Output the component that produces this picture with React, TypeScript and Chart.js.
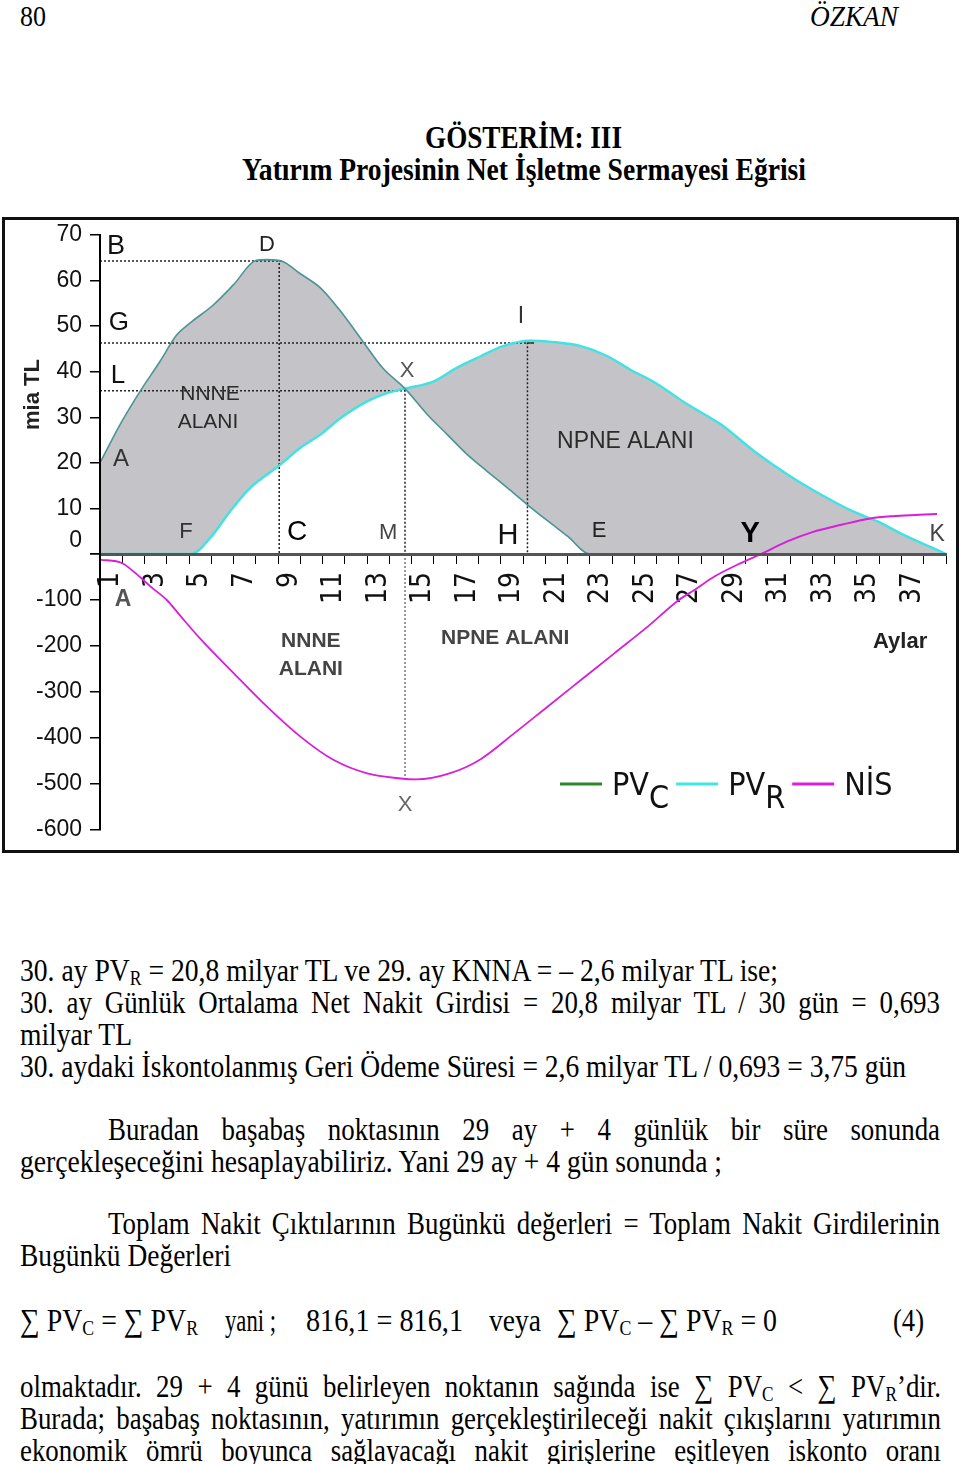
import React, { useEffect, useLayoutEffect, useRef } from 'react';
import { Chart, registerables } from 'chart.js';

Chart.register(...registerables);

// ---------------- data ----------------
const MONTH_LABELS = ['1', '2', '3', '4', '5', '6', '7', '8', '9', '10', '11', '12', '13', '14', '15', '16', '17', '18', '19',
  '20', '21', '22', '23', '24', '25', '26', '27', '28', '29', '30', '31', '32', '33', '34', '35', '36', '37', '38'];

// PV_C (present value of cash outflows), mia TL
const PVC_T = [0, 0.9, 1.8, 2.7, 3.45, 4.05, 5.1, 6.0, 7.0, 7.5, 8.2, 9.0, 9.9, 10.8, 11.8, 12.7, 13.7, 14.7, 15.6, 16.5, 17.4, 18.3, 19.2, 20.1, 21.0, 22.0, 38];
const PVC_V = [20, 28.4, 35.7, 42.3, 48.1, 50.7, 54.7, 59.1, 64.4, 64.6, 64.2, 61.5, 58.4, 53.3, 46.7, 40.8, 36.3, 30.6, 26.2, 21.8, 18.1, 14.5, 10.8, 7.3, 3.9, 0, 0];

// PV_R (present value of cash inflows), mia TL
const PVR_T = [0, 4.1, 4.95, 5.85, 6.75, 8.1, 9.0, 9.9, 10.8, 12.0, 12.9, 13.7, 15.0, 16.0, 17.1, 18.1, 19.3, 20.4, 21.6, 22.8, 23.8, 24.9, 26.4, 27.9, 29.4, 30.9, 32.4, 33.8, 34.9, 36.1, 38];
const PVR_V = [0, 0, 3.5, 9.4, 14.5, 19.6, 23.3, 26.2, 29.8, 33.5, 35.3, 36.3, 37.9, 40.8, 43.4, 45.6, 46.8, 46.5, 45.6, 43.4, 40.5, 37.7, 32.8, 28.4, 22.5, 17.4, 13.0, 9.4, 7.2, 4.2, 0];

// NİS (cumulative net working capital), negative part (lower scale) and positive part (upper scale)
const NIS_NEG_T = [0, 1.0, 1.6, 2.3, 3.0, 3.6, 4.5, 6.0, 7.5, 9.0, 10.5, 12.0, 13.5, 14.2, 15.7, 17.1, 18.6, 20.1, 21.6, 23.1, 24.6, 26.0, 26.7, 27.6, 28.6, 29.7];
const NIS_NEG_V = [-12, -20, -42, -72, -100, -134, -184, -259, -332, -397, -448, -477, -488, -490, -477, -446, -390, -332, -274, -216, -158, -100, -78, -49, -24, 0];
const NIS_POS_T = [29.7, 30.85, 32.0, 33.3, 34.6, 35.6, 36.8, 37.6];
const NIS_POS_V = [0, 2.7, 4.8, 6.4, 7.8, 8.3, 8.6, 8.8];

// dotted reference lines (B-D, G-I, L-X)
const GUIDE_D_T = [0, 8.2, 8.05, 8.05];
const GUIDE_D_V = [64.3, 64.3, 64.3, 0];
const GUIDE_I_T = [0, 19.5, 19.2, 19.2];
const GUIDE_I_V = [46.3, 46.3, 46.3, 0];
const GUIDE_X_T = [0, 13.7, 13.7];
const GUIDE_X_V = [35.8, 35.8, 0];
const GUIDE_XLOW_T = [13.7, 13.7];
const GUIDE_XLOW_V = [0, -485];

// point labels in the chart
const ANNOTATIONS = [
  { text: 'B', t: 0.72, v: 68.0, axis: 'yTop', size: 27, bold: false, color: '#111' },
  { text: 'D', t: 7.5, v: 68.2, axis: 'yTop', size: 22, bold: false, color: '#222' },
  { text: 'G', t: 0.85, v: 51.3, axis: 'yTop', size: 26, bold: false, color: '#111' },
  { text: 'L', t: 0.81, v: 39.5, axis: 'yTop', size: 26, bold: false, color: '#111' },
  { text: 'A', t: 0.94, v: 21.3, axis: 'yTop', size: 24, bold: false, color: '#333' },
  { text: 'NNNE', t: 4.94, v: 35.5, axis: 'yTop', size: 21, bold: false, color: '#2b2b2b' },
  { text: 'ALANI', t: 4.85, v: 29.4, axis: 'yTop', size: 21, bold: false, color: '#2b2b2b' },
  { text: 'F', t: 3.86, v: 5.3, axis: 'yTop', size: 22, bold: false, color: '#333' },
  { text: 'C', t: 8.85, v: 5.3, axis: 'yTop', size: 28, bold: false, color: '#000' },
  { text: 'M', t: 12.94, v: 5.0, axis: 'yTop', size: 22, bold: false, color: '#444' },
  { text: 'H', t: 18.33, v: 4.4, axis: 'yTop', size: 29, bold: false, color: '#111' },
  { text: 'E', t: 22.42, v: 5.5, axis: 'yTop', size: 22, bold: false, color: '#222' },
  { text: 'Y', t: 29.2, v: 5.0, axis: 'yTop', size: 29, bold: true, color: '#000' },
  { text: 'K', t: 37.6, v: 4.6, axis: 'yTop', size: 23, bold: false, color: '#444' },
  { text: 'X', t: 13.79, v: 40.6, axis: 'yTop', size: 22, bold: false, color: '#555' },
  { text: 'I', t: 18.91, v: 52.6, axis: 'yTop', size: 23, bold: false, color: '#333' },
  { text: 'NPNE ALANI', t: 23.6, v: 25.1, axis: 'yTop', size: 23, bold: false, color: '#2b2b2b' },
  { text: 'A', t: 1.03, v: -95.6, axis: 'yBot', size: 23, bold: true, color: '#555' },
  { text: 'NNNE', t: 9.47, v: -186, axis: 'yBot', size: 21, bold: true, color: '#444' },
  { text: 'ALANI', t: 9.47, v: -247, axis: 'yBot', size: 21, bold: true, color: '#444' },
  { text: 'NPNE ALANI', t: 18.2, v: -180, axis: 'yBot', size: 21, bold: true, color: '#444' },
  { text: 'Aylar', t: 35.94, v: -187, axis: 'yBot', size: 22, bold: true, color: '#222' },
  { text: 'X', t: 13.7, v: -541, axis: 'yBot', size: 22, bold: false, color: '#666' },
];

const LEGEND_ITEMS = [
  { name: 'PV', sub: 'C', color: '#2a8a2a' },
  { name: 'PV', sub: 'R', color: '#40e6e6' },
  { name: 'NİS', sub: '', color: '#dd1fdd' },
];

// ---------------- styles ----------------
const SANS = "'Liberation Sans', Arial, sans-serif";
const NARROW = "'Liberation Sans Narrow', 'Arial Narrow', 'DejaVu Sans Condensed', sans-serif";
const SERIF = "'Liberation Serif', 'Times New Roman', serif";
const BASE_SCALE = 0.84;

const zip = (t: number[], v: number[]) => t.map((x, i) => ({ x, y: v[i] }));
const zeroPad = (s: any) => { s.paddingLeft = 0; s.paddingRight = 0; s.paddingTop = 0; s.paddingBottom = 0; };

const annotationPlugin = {
  id: 'pointLetters',
  afterDatasetsDraw(chart: any) {
    const ctx = chart.ctx;
    const xs = chart.scales.x;
    ctx.save();
    ctx.textAlign = 'center';
    ctx.textBaseline = 'alphabetic';
    for (const a of ANNOTATIONS) {
      const ys = chart.scales[a.axis];
      ctx.font = `${a.bold ? 'bold ' : ''}${a.size}px ${SANS}`;
      ctx.fillStyle = a.color;
      ctx.fillText(a.text, xs.getPixelForValue(a.t), ys.getPixelForValue(a.v) + a.size * 0.36);
    }
    ctx.restore();
  },
};

const legendPlugin = {
  id: 'subLegend',
  afterDraw(chart: any) {
    const ctx = chart.ctx;
    ctx.save();
    ctx.font = `32px ${NARROW}`;
    ctx.textAlign = 'left';
    ctx.textBaseline = 'alphabetic';
    let x = chart.chartArea.left + 460;
    const base = chart.chartArea.bottom - 35;
    for (const it of LEGEND_ITEMS) {
      ctx.strokeStyle = it.color;
      ctx.lineWidth = 3;
      ctx.beginPath();
      ctx.moveTo(x, base - 11);
      ctx.lineTo(x + 42, base - 11);
      ctx.stroke();
      x += 52;
      ctx.fillStyle = '#111';
      ctx.fillText(it.name, x, base);
      x += ctx.measureText(it.name).width;
      if (it.sub) {
        ctx.fillText(it.sub, x, base + 13);
        x += ctx.measureText(it.sub).width;
      }
      x += 7;
    }
    ctx.restore();
  },
};

function ChartPanel() {
  const ref = useRef<HTMLCanvasElement>(null);
  useEffect(() => {
    const canvas = ref.current;
    if (!canvas) return;
    const guide = (t: number[], v: number[], axis: string, color: string, w: number) => ({
      data: zip(t, v), xAxisID: 'x', yAxisID: axis, borderColor: color, borderWidth: w,
      borderDash: [2, 2], pointRadius: 0, fill: false, tension: 0,
    });
    const chart = new Chart(canvas, {
      type: 'line',
      data: {
        datasets: [
          { label: 'NİS', data: zip(NIS_NEG_T, NIS_NEG_V), xAxisID: 'x', yAxisID: 'yBot', borderColor: '#d81ed8', borderWidth: 1.8, pointRadius: 0, fill: false, cubicInterpolationMode: 'monotone' },
          { label: 'NİS+', data: zip(NIS_POS_T, NIS_POS_V), xAxisID: 'x', yAxisID: 'yTop', borderColor: '#d81ed8', borderWidth: 2, pointRadius: 0, fill: false, cubicInterpolationMode: 'monotone' },
          { label: 'PVC', data: zip(PVC_T, PVC_V), xAxisID: 'x', yAxisID: 'yTop', borderColor: '#4d9494', borderWidth: 1.6, pointRadius: 0, fill: false, cubicInterpolationMode: 'monotone' },
          { label: 'PVR', data: zip(PVR_T, PVR_V), xAxisID: 'x', yAxisID: 'yTop', borderColor: '#3fe3e3', borderWidth: 2.4, pointRadius: 0, fill: 2, backgroundColor: '#c4c3c7', cubicInterpolationMode: 'monotone' },
          guide(GUIDE_D_T, GUIDE_D_V, 'yTop', '#222', 1.5),
          guide(GUIDE_I_T, GUIDE_I_V, 'yTop', '#222', 1.5),
          guide(GUIDE_X_T, GUIDE_X_V, 'yTop', '#222', 1.5),
          guide(GUIDE_XLOW_T, GUIDE_XLOW_V, 'yBot', '#999', 2),
        ] as any,
      },
      options: {
        responsive: false,
        animation: false,
        devicePixelRatio: 1,
        layout: { padding: { left: 0, right: 10, top: 15, bottom: 20 } },
        plugins: {
          legend: { display: false },
          tooltip: { enabled: false },
          filler: { drawTime: 'beforeDatasetsDraw' },
        },
        scales: {
          x: {
            type: 'linear', axis: 'x', position: { yTop: 0 }, min: 0, max: 38,
            ticks: { stepSize: 1, display: false },
            grid: { drawOnChartArea: false, drawTicks: true, tickLength: 8, color: '#000', lineWidth: 1 },
            border: { display: true, color: '#555', width: 3, z: 1 },
            afterFit: zeroPad,
          },
          xl: {
            type: 'category', axis: 'x', labels: MONTH_LABELS, position: { yTop: 0 }, offset: true,
            grid: { display: false, drawTicks: false },
            border: { display: false },
            ticks: {
              autoSkip: false, minRotation: 90, maxRotation: 90, padding: 18, color: '#111',
              font: { family: NARROW, size: 28 },
              callback: (_v: any, idx: number) => (idx % 2 === 0 ? MONTH_LABELS[idx] : ''),
            },
            afterFit: zeroPad,
          },
          yBot: {
            type: 'linear', axis: 'y', position: 'left', stack: 'v', stackWeight: 276, weight: 0,
            min: -600, max: 0,
            ticks: { stepSize: 100, autoSkip: false, padding: 8, color: '#111', font: { family: SANS, size: 23 },
              callback: (v: any) => (v === 0 ? '' : String(v)) },
            grid: { drawOnChartArea: false, tickLength: 10, color: '#000', lineWidth: 1.5 },
            border: { display: true, color: '#000', width: 2, z: 1 },
            afterFit: (s: any) => { zeroPad(s); s.width = 95; },
          },
          yTop: {
            type: 'linear', axis: 'y', position: 'left', stack: 'v', stackWeight: 319, weight: 1,
            min: 0, max: 70,
            ticks: { stepSize: 10, autoSkip: false, padding: 8, color: '#111', font: { family: SANS, size: 23 },
              callback: (v: any) => (v === 0 ? ['0', ''] : String(v)) },
            grid: { drawOnChartArea: false, tickLength: 10, color: '#000', lineWidth: 1.5 },
            border: { display: true, color: '#000', width: 2, z: 1 },
            title: { display: true, text: 'mia TL', color: '#222', font: { family: SANS, size: 22, weight: 'bold' }, padding: { top: 15, bottom: 0 } },
            afterFit: (s: any) => { zeroPad(s); s.width = 95; },
          },
        } as any,
      },
      plugins: [annotationPlugin, legendPlugin],
    } as any);
    return () => chart.destroy();
  }, []);
  return <canvas ref={ref} width={951} height={630} style={{ display: 'block', width: 951, height: 630 }} />;
}

function TextLine(props: { x: number; y: number; w: number; justify?: boolean; size?: number; bold?: boolean; italic?: boolean; children: React.ReactNode }) {
  const ref = useRef<HTMLDivElement>(null);
  const { x, y, w, justify, size = 32, bold, italic } = props;
  useLayoutEffect(() => {
    const el = ref.current;
    if (!el) return;
    el.style.transform = 'none';
    el.style.wordSpacing = '0px';
    const natural = el.getBoundingClientRect().width;
    if (!natural) return;
    let s = w / natural;
    if (justify) {
      const spaces = (el.textContent || '').split(' ').length - 1;
      if (spaces > 0 && natural * BASE_SCALE < w) {
        s = BASE_SCALE;
        el.style.wordSpacing = `${(w / s - natural) / spaces}px`;
      }
    }
    el.style.transform = `scaleX(${s})`;
  }, [w, justify]);
  return (
    <div ref={ref} style={{
      position: 'absolute', left: x, top: y - size / 2, width: 'max-content', whiteSpace: 'pre',
      fontFamily: SERIF, fontSize: size, lineHeight: `${size}px`, fontWeight: bold ? 700 : 400,
      fontStyle: italic ? 'italic' : 'normal', transformOrigin: '0 0', color: '#000',
    }}>{props.children}</div>
  );
}

const Sub = ({ children }: { children: React.ReactNode }) => (
  <span style={{ fontSize: '0.64em', position: 'relative', top: '0.2em' }}>{children}</span>
);

export default function App() {
  return (
    <div style={{ position: 'absolute', left: 0, top: 0, width: 960, height: 1464, background: '#fff', overflow: 'hidden' }}>
      <TextLine x={20} y={16} w={26} size={30}>80</TextLine>
      <TextLine x={810} y={16} w={88} size={30} italic>ÖZKAN</TextLine>
      <TextLine x={425} y={137} w={197} bold>GÖSTERİM: III</TextLine>
      <TextLine x={242} y={169} w={564} bold>Yatırım Projesinin Net İşletme Sermayesi Eğrisi</TextLine>

      <div style={{ position: 'absolute', left: 2, top: 217, width: 957, height: 636, border: '3px solid #111', boxSizing: 'border-box', background: '#fff' }}>
        <ChartPanel />
      </div>

      <TextLine x={20} y={970} w={758}>30. ay PV<Sub>R</Sub> = 20,8 milyar TL ve 29. ay KNNA = – 2,6 milyar TL ise;</TextLine>
      <TextLine x={20} y={1002} w={920} justify>30. ay Günlük Ortalama Net Nakit Girdisi = 20,8 milyar TL / 30 gün = 0,693</TextLine>
      <TextLine x={20} y={1034} w={112}>milyar TL</TextLine>
      <TextLine x={20} y={1066} w={886}>30. aydaki İskontolanmış Geri Ödeme Süresi = 2,6 milyar TL / 0,693 = 3,75 gün</TextLine>
      <TextLine x={108} y={1129} w={832} justify>Buradan başabaş noktasının 29 ay + 4 günlük bir süre sonunda</TextLine>
      <TextLine x={20} y={1161} w={702}>gerçekleşeceğini hesaplayabiliriz. Yani 29 ay + 4 gün sonunda ;</TextLine>
      <TextLine x={108} y={1223} w={832} justify>Toplam Nakit Çıktılarının Bugünkü değerleri = Toplam Nakit Girdilerinin</TextLine>
      <TextLine x={20} y={1255} w={211}>Bugünkü Değerleri</TextLine>

      <TextLine x={20} y={1320} w={178}>∑ PV<Sub>C</Sub> = ∑ PV<Sub>R</Sub></TextLine>
      <TextLine x={225} y={1320} w={51}>yani ;</TextLine>
      <TextLine x={306} y={1320} w={157}>816,1 = 816,1</TextLine>
      <TextLine x={489} y={1320} w={52}>veya</TextLine>
      <TextLine x={557} y={1320} w={220}>∑ PV<Sub>C</Sub> – ∑ PV<Sub>R</Sub> = 0</TextLine>
      <TextLine x={893} y={1320} w={31}>(4)</TextLine>

      <TextLine x={20} y={1386} w={921} justify>olmaktadır. 29 + 4 günü belirleyen noktanın sağında ise ∑ PV<Sub>C</Sub> &lt; ∑ PV<Sub>R</Sub>’dir.</TextLine>
      <TextLine x={20} y={1418} w={921} justify>Burada; başabaş noktasının, yatırımın gerçekleştirileceği nakit çıkışlarını yatırımın</TextLine>
      <TextLine x={20} y={1450} w={921} justify>ekonomik ömrü boyunca sağlayacağı nakit girişlerine eşitleyen iskonto oranı</TextLine>
    </div>
  );
}
